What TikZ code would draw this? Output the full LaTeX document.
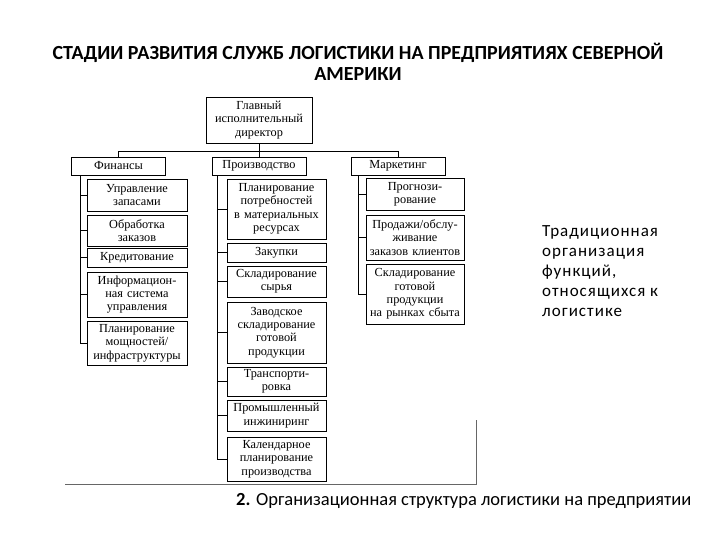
\documentclass[tikz,border=0pt]{standalone}
\usepackage{fontspec}
\setmainfont{Carlito}
\newfontfamily\boxfont{Liberation Serif}
\usepackage{tikz}
\usetikzlibrary{positioning, calc}

\begin{document}
\begin{tikzpicture}[
    x=1pt, y=-1pt,
    every node/.style={inner sep=1pt},
    box/.style   ={draw, line width=0.9pt, align=center, inner xsep=0.5pt, font=\boxfont\fontsize{12.3}{13.4}\selectfont},
    dept/.style  ={box, minimum width=94pt, minimum height=18pt},
    finbox/.style ={box, minimum width=100pt, text width=99pt},
    prodbox/.style={box, minimum width=99pt, text width=98pt},
    mktbox/.style ={box, minimum width=98pt, text width=97pt},
    link/.style  ={line width=0.9pt},
    frame/.style ={line width=0.6pt, black!60}
]
\useasboundingbox (0,0) rectangle (720,540);

% Title
\node[font=\bfseries\fontsize{20}{21}\selectfont, align=center] (title) at (358,62)
    {СТАДИИ РАЗВИТИЯ СЛУЖБ ЛОГИСТИКИ НА ПРЕДПРИЯТИЯХ СЕВЕРНОЙ\\АМЕРИКИ};

% Head and departments
\node[box, minimum width=106pt, minimum height=46pt] (ceo) at (259,120)
    {Главный\\исполнительный\\директор};
\node[dept] (fin)  at (118.5,166) {Финансы};
\node[dept] (prod) at (259,166)   {Производство};
\node[dept] (mkt)  at (398,166)   {Маркетинг};

% Finance column
\node[finbox, minimum height=32pt] (fin1) at (137,195)   {Управление\\запасами};
\node[finbox, minimum height=31pt] (fin2) at (137,230.5) {Обработка\\заказов};
\node[finbox, minimum height=19pt] (fin3) at (137,257.5) {Кредитование};
\node[finbox, minimum height=45pt] (fin4) at (137,294.5) {Информацион-\\ная система\\управления};
\node[finbox, minimum height=44pt] (fin5) at (137,343)   {Планирование\\мощностей/\\инфраструктуры};

% Production column
\node[prodbox, minimum height=60pt] (prod1) at (276.5,209)   {Планирование\\потребностей\\в материальных\\ресурсах};
\node[prodbox, minimum height=19pt] (prod2) at (276.5,252.5) {Закупки};
\node[prodbox, minimum height=31pt] (prod3) at (276.5,281.5) {Складирование\\сырья};
\node[prodbox, minimum height=61pt] (prod4) at (276.5,332.5) {Заводское\\складирование\\готовой\\продукции};
\node[prodbox, minimum height=29pt] (prod5) at (276.5,381.5) {Транспорти-\\ровка};
\node[prodbox, minimum height=31pt] (prod6) at (276.5,415.5) {Промышленный\\инжиниринг};
\node[prodbox, minimum height=44pt] (prod7) at (276.5,459)   {Календарное\\планирование\\производства};

% Marketing column
\node[mktbox, minimum height=32pt] (mkt1) at (415,194)   {Прогнози-\\рование};
\node[mktbox, minimum height=45pt] (mkt2) at (415,237.5) {Продажи/обслу-\\живание\\заказов клиентов};
\node[mktbox, minimum height=60pt] (mkt3) at (415,294)   {Складирование\\готовой\\продукции\\на рынках сбыта};

% Bus from the head to the departments
\coordinate (bus) at (0,151);
\draw[link] (ceo.south) -- (prod.north);
\draw[link] (fin.north) |- (mkt.north |- bus) -- (mkt.north);

% Trunks with ticks
\coordinate (ftrunk) at (80,0);
\coordinate (ptrunk) at (217,0);
\coordinate (mtrunk) at (358,0);
\draw[link] (fin.south -| ftrunk) |- (fin5.west);
\foreach \i in {1,...,4} \draw[link] (ftrunk |- fin\i.west) -- (fin\i.west);
\draw[link] (prod.south -| ptrunk) |- (prod7.west);
\foreach \i in {1,...,6} \draw[link] (ptrunk |- prod\i.west) -- (prod\i.west);
\draw[link] (mkt.south -| mtrunk) |- (mkt3.west);
\foreach \i in {1,2} \draw[link] (mtrunk |- mkt\i.west) -- (mkt\i.west);

% Scan frame
\coordinate (fbl) at (65,484);
\coordinate (fbr) at (476,484);
\coordinate (ftr) at (476,420);
\draw[frame] (fbl) -- (fbr) -- (ftr);

% Side note
\node[anchor=north west, align=left, font=\fontsize{17}{20}\selectfont\addfontfeatures{LetterSpace=6}] (note) at (541,224)
    {Традиционная\\организация\\функций,\\относящихся к\\логистике};

% Caption
\node[anchor=west, font=\fontsize{18.5}{20}\selectfont] (caption) at (235,501)
    {\textbf{2.} Организационная структура логистики на предприятии};
\end{tikzpicture}
\end{document}
